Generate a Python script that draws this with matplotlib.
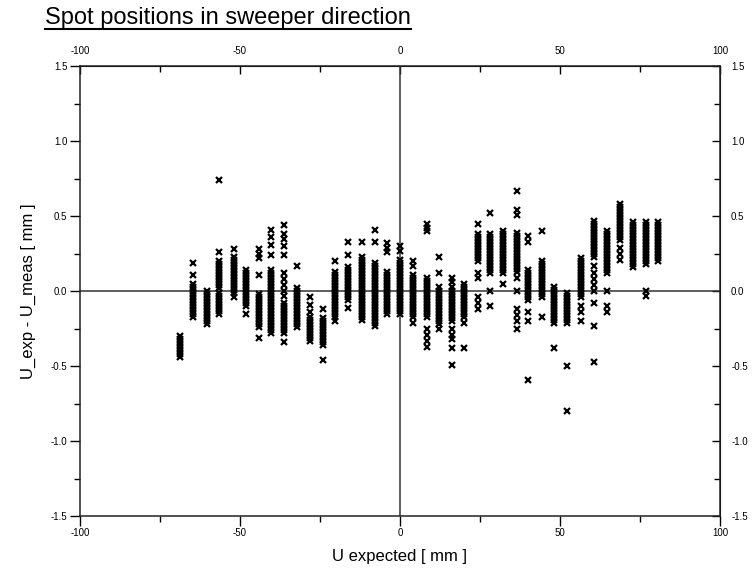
# spot positions in sweeper direction - residuals per column
import matplotlib.pyplot as plt
from matplotlib.lines import Line2D
from matplotlib.ticker import MultipleLocator, FixedLocator

plt.rcParams['font.family'] = ['Liberation Sans', 'DejaVu Sans']

# nominal U position of every spot column [mm]
spot_u = [-68.8, -64.6, -60.4, -56.5, -52.0, -48.0, -44.0, -40.3, -36.2, -32.3,
          -28.1, -24.2, -20.3, -16.1, -12.0, -7.8, -4.1, 0.0, 4.2, 8.3,
          12.3, 16.1, 20.1, 24.5, 28.1, 32.3, 36.5, 40.1, 44.3, 48.1,
          52.3, 56.5, 60.6, 64.8, 68.8, 72.9, 76.9, 80.7]

# U_exp - U_meas read for each column [mm]
spot_du = [
    [-0.44, -0.42, -0.40, -0.38, -0.36, -0.34, -0.32, -0.30],
    [-0.17, -0.15, -0.13, -0.11, -0.09, -0.07, -0.05, -0.03, -0.01, 0.01, 0.03, 0.05, 0.11, 0.19],
    [-0.22, -0.20, -0.18, -0.16, -0.14, -0.12, -0.10, -0.08, -0.06, -0.04, -0.02, 0.00],
    [-0.15, -0.13, -0.11, -0.09, -0.07, -0.05, -0.03, -0.01, 0.02, 0.04, 0.06, 0.08, 0.10, 0.12,
     0.14, 0.16, 0.18, 0.20, 0.26, 0.74],
    [-0.04, -0.01, 0.01, 0.03, 0.05, 0.07, 0.09, 0.11, 0.13, 0.15, 0.17, 0.19, 0.21, 0.23, 0.28],
    [-0.15, -0.10, -0.08, -0.06, -0.04, -0.02, 0.00, 0.02, 0.04, 0.06, 0.08, 0.10, 0.12, 0.14],
    [-0.31, -0.24, -0.22, -0.20, -0.18, -0.16, -0.14, -0.12, -0.10, -0.08, -0.06, -0.04, -0.02,
     0.11, 0.22, 0.25, 0.28],
    [-0.28, -0.26, -0.24, -0.22, -0.20, -0.18, -0.16, -0.14, -0.12, -0.10, -0.08, -0.06, -0.04,
     -0.02, 0.00, 0.02, 0.04, 0.06, 0.08, 0.10, 0.12, 0.14, 0.24, 0.31, 0.36, 0.41],
    [-0.34, -0.28, -0.26, -0.24, -0.22, -0.20, -0.18, -0.16, -0.14, -0.12, -0.10, -0.08, -0.03,
     0.00, 0.04, 0.08, 0.12, 0.24, 0.30, 0.35, 0.38, 0.44],
    [-0.24, -0.22, -0.20, -0.18, -0.16, -0.14, -0.12, -0.10, -0.08, -0.06, -0.04, -0.02, 0.00,
     0.02, 0.17],
    [-0.33, -0.31, -0.29, -0.27, -0.25, -0.23, -0.21, -0.19, -0.17, -0.14, -0.09, -0.04],
    [-0.46, -0.36, -0.34, -0.32, -0.30, -0.28, -0.26, -0.24, -0.22, -0.20, -0.18, -0.12],
    [-0.20, -0.17, -0.15, -0.13, -0.11, -0.09, -0.07, -0.05, -0.03, -0.01, 0.01, 0.03, 0.05,
     0.07, 0.09, 0.11, 0.13, 0.20],
    [-0.11, -0.06, -0.04, -0.02, 0.00, 0.02, 0.04, 0.06, 0.08, 0.10, 0.12, 0.14, 0.16, 0.24, 0.33],
    [-0.19, -0.17, -0.15, -0.13, -0.11, -0.09, -0.07, -0.05, -0.03, -0.01, 0.01, 0.03, 0.05,
     0.07, 0.09, 0.11, 0.13, 0.15, 0.17, 0.19, 0.21, 0.23, 0.33],
    [-0.23, -0.21, -0.19, -0.17, -0.15, -0.13, -0.11, -0.09, -0.07, -0.05, -0.03, -0.01, 0.01,
     0.03, 0.05, 0.07, 0.09, 0.11, 0.13, 0.15, 0.17, 0.19, 0.33, 0.41],
    [-0.15, -0.13, -0.11, -0.09, -0.07, -0.05, -0.03, -0.01, 0.01, 0.03, 0.05, 0.07, 0.09,
     0.11, 0.13, 0.26, 0.29, 0.32],
    [-0.15, -0.13, -0.11, -0.09, -0.07, -0.05, -0.03, -0.01, 0.01, 0.03, 0.05, 0.07, 0.09,
     0.11, 0.13, 0.15, 0.17, 0.19, 0.21, 0.27, 0.30],
    [-0.21, -0.17, -0.15, -0.13, -0.11, -0.09, -0.07, -0.05, -0.03, -0.01, 0.01, 0.03, 0.05,
     0.07, 0.09, 0.11, 0.17, 0.20],
    [-0.37, -0.33, -0.29, -0.25, -0.17, -0.15, -0.13, -0.11, -0.09, -0.07, -0.05, -0.03, -0.01,
     0.01, 0.03, 0.05, 0.07, 0.09, 0.40, 0.42, 0.45],
    [-0.25, -0.22, -0.20, -0.18, -0.16, -0.14, -0.12, -0.10, -0.08, -0.06, -0.04, -0.02, 0.00,
     0.03, 0.12, 0.23],
    [-0.49, -0.38, -0.32, -0.29, -0.25, -0.20, -0.18, -0.16, -0.14, -0.12, -0.10, -0.08, -0.06,
     -0.04, -0.02, 0.00, 0.03, 0.06, 0.09],
    [-0.38, -0.21, -0.17, -0.15, -0.13, -0.11, -0.09, -0.07, -0.05, -0.03, -0.01, 0.01, 0.03, 0.05],
    [-0.12, -0.08, -0.04, 0.09, 0.12, 0.20, 0.22, 0.24, 0.26, 0.28, 0.30, 0.32, 0.34, 0.36,
     0.38, 0.45],
    [-0.10, 0.00, 0.12, 0.14, 0.16, 0.18, 0.20, 0.22, 0.24, 0.26, 0.28, 0.30, 0.32, 0.34,
     0.36, 0.38, 0.52],
    [0.05, 0.12, 0.14, 0.16, 0.18, 0.20, 0.22, 0.24, 0.26, 0.28, 0.30, 0.32, 0.34, 0.36,
     0.38, 0.40],
    [-0.25, -0.20, -0.16, -0.12, 0.00, 0.09, 0.13, 0.15, 0.17, 0.19, 0.21, 0.23, 0.25, 0.27,
     0.29, 0.31, 0.33, 0.35, 0.37, 0.39, 0.51, 0.54, 0.67],
    [-0.59, -0.20, -0.14, -0.06, -0.04, -0.02, 0.00, 0.02, 0.04, 0.06, 0.08, 0.10, 0.12, 0.14,
     0.33, 0.37],
    [-0.17, -0.04, -0.02, 0.00, 0.02, 0.04, 0.06, 0.08, 0.10, 0.12, 0.14, 0.16, 0.18, 0.20, 0.40],
    [-0.38, -0.21, -0.19, -0.17, -0.15, -0.13, -0.11, -0.09, -0.07, -0.05, -0.03, -0.01, 0.01, 0.03],
    [-0.80, -0.50, -0.21, -0.19, -0.17, -0.15, -0.13, -0.11, -0.09, -0.07, -0.05, -0.03, -0.01],
    [-0.20, -0.14, -0.10, -0.04, -0.02, 0.00, 0.02, 0.04, 0.06, 0.08, 0.10, 0.12, 0.14, 0.16,
     0.18, 0.20, 0.22],
    [-0.47, -0.23, -0.08, 0.00, 0.04, 0.08, 0.12, 0.17, 0.23, 0.25, 0.27, 0.29, 0.31, 0.33,
     0.35, 0.37, 0.39, 0.41, 0.43, 0.45, 0.47],
    [-0.14, -0.10, 0.00, 0.12, 0.14, 0.16, 0.18, 0.20, 0.22, 0.24, 0.26, 0.28, 0.30, 0.32,
     0.34, 0.36, 0.38, 0.40],
    [0.21, 0.25, 0.29, 0.34, 0.36, 0.38, 0.40, 0.42, 0.44, 0.46, 0.48, 0.50, 0.52, 0.54,
     0.56, 0.58],
    [0.16, 0.18, 0.20, 0.22, 0.24, 0.26, 0.28, 0.30, 0.32, 0.34, 0.36, 0.38, 0.40, 0.42,
     0.44, 0.46],
    [-0.03, 0.00, 0.18, 0.20, 0.22, 0.24, 0.26, 0.28, 0.30, 0.32, 0.34, 0.36, 0.38, 0.40,
     0.42, 0.44, 0.46],
    [0.20, 0.22, 0.24, 0.26, 0.28, 0.30, 0.32, 0.34, 0.36, 0.38, 0.40, 0.42, 0.44, 0.46],
]

x_ticks = [-100, -50, 0, 50, 100]
y_ticks = [-1.5, -1.0, -0.5, 0.0, 0.5, 1.0, 1.5]

fig = plt.figure(figsize=(7.56, 5.68), dpi=100)
W, H = 756, 568
ax = fig.add_axes([80 / W, 52 / H, 640 / W, 450 / H])

for u, dus in zip(spot_u, spot_du):
    ax.plot([u] * len(dus), dus, linestyle='none', marker='x', color='black',
            markersize=4.6, markeredgewidth=1.6)

# cross through the origin
ax.axhline(0, color='#333333', lw=1.1, zorder=1)
ax.axvline(0, color='#333333', lw=1.1, zorder=1)

ax.set_xlim(-100, 100)
ax.set_ylim(-1.5, 1.5)
ax.xaxis.set_major_locator(FixedLocator(x_ticks))
ax.yaxis.set_major_locator(FixedLocator(y_ticks))
ax.xaxis.set_minor_locator(MultipleLocator(25))
ax.yaxis.set_minor_locator(MultipleLocator(0.25))
ax.set_xticklabels([str(t) for t in x_ticks])
ax.set_yticklabels(['%.1f' % t for t in y_ticks])
ax.tick_params(which='major', direction='out', length=7, width=1, labelsize=7, pad=2)
ax.tick_params(which='minor', direction='out', length=4, width=1)
for s in ax.spines.values():
    s.set_linewidth(1.1)
    s.set_color('#222222')

# top and right axes: inward ticks, labels repeated
top = ax.secondary_xaxis('top')
top.set_xticks(x_ticks)
top.set_xticklabels([str(t) for t in x_ticks])
top.xaxis.set_minor_locator(MultipleLocator(25))
top.tick_params(which='major', direction='in', length=6, width=1, labelsize=7, pad=7)
top.tick_params(which='minor', direction='in', length=4, width=1)

right = ax.secondary_yaxis('right')
right.set_yticks(y_ticks)
right.set_yticklabels(['%.1f' % t for t in y_ticks])
right.yaxis.set_minor_locator(MultipleLocator(0.25))
right.tick_params(which='major', direction='in', length=6, width=1, labelsize=7, pad=8)
right.tick_params(which='minor', direction='in', length=4, width=1)

fig.text(400 / W, 1 - 556 / H, 'U expected [ mm ]', ha='center', va='center', fontsize=12)
fig.text(28 / W, 1 - 291 / H, 'U_exp - U_meas [ mm ]', ha='center', va='center',
         rotation=90, fontsize=12)

# underlined title
title = fig.text(45 / W, 1 - 24 / H, 'Spot positions in sweeper direction',
                 ha='left', va='baseline', fontsize=17)
fig.canvas.draw()
bb = title.get_window_extent()
fig.add_artist(Line2D([bb.x0 / W, bb.x1 / W], [1 - 28.5 / H, 1 - 28.5 / H],
                      transform=fig.transFigure, color='black', lw=1.5))

plt.savefig('out.png', dpi=100)
